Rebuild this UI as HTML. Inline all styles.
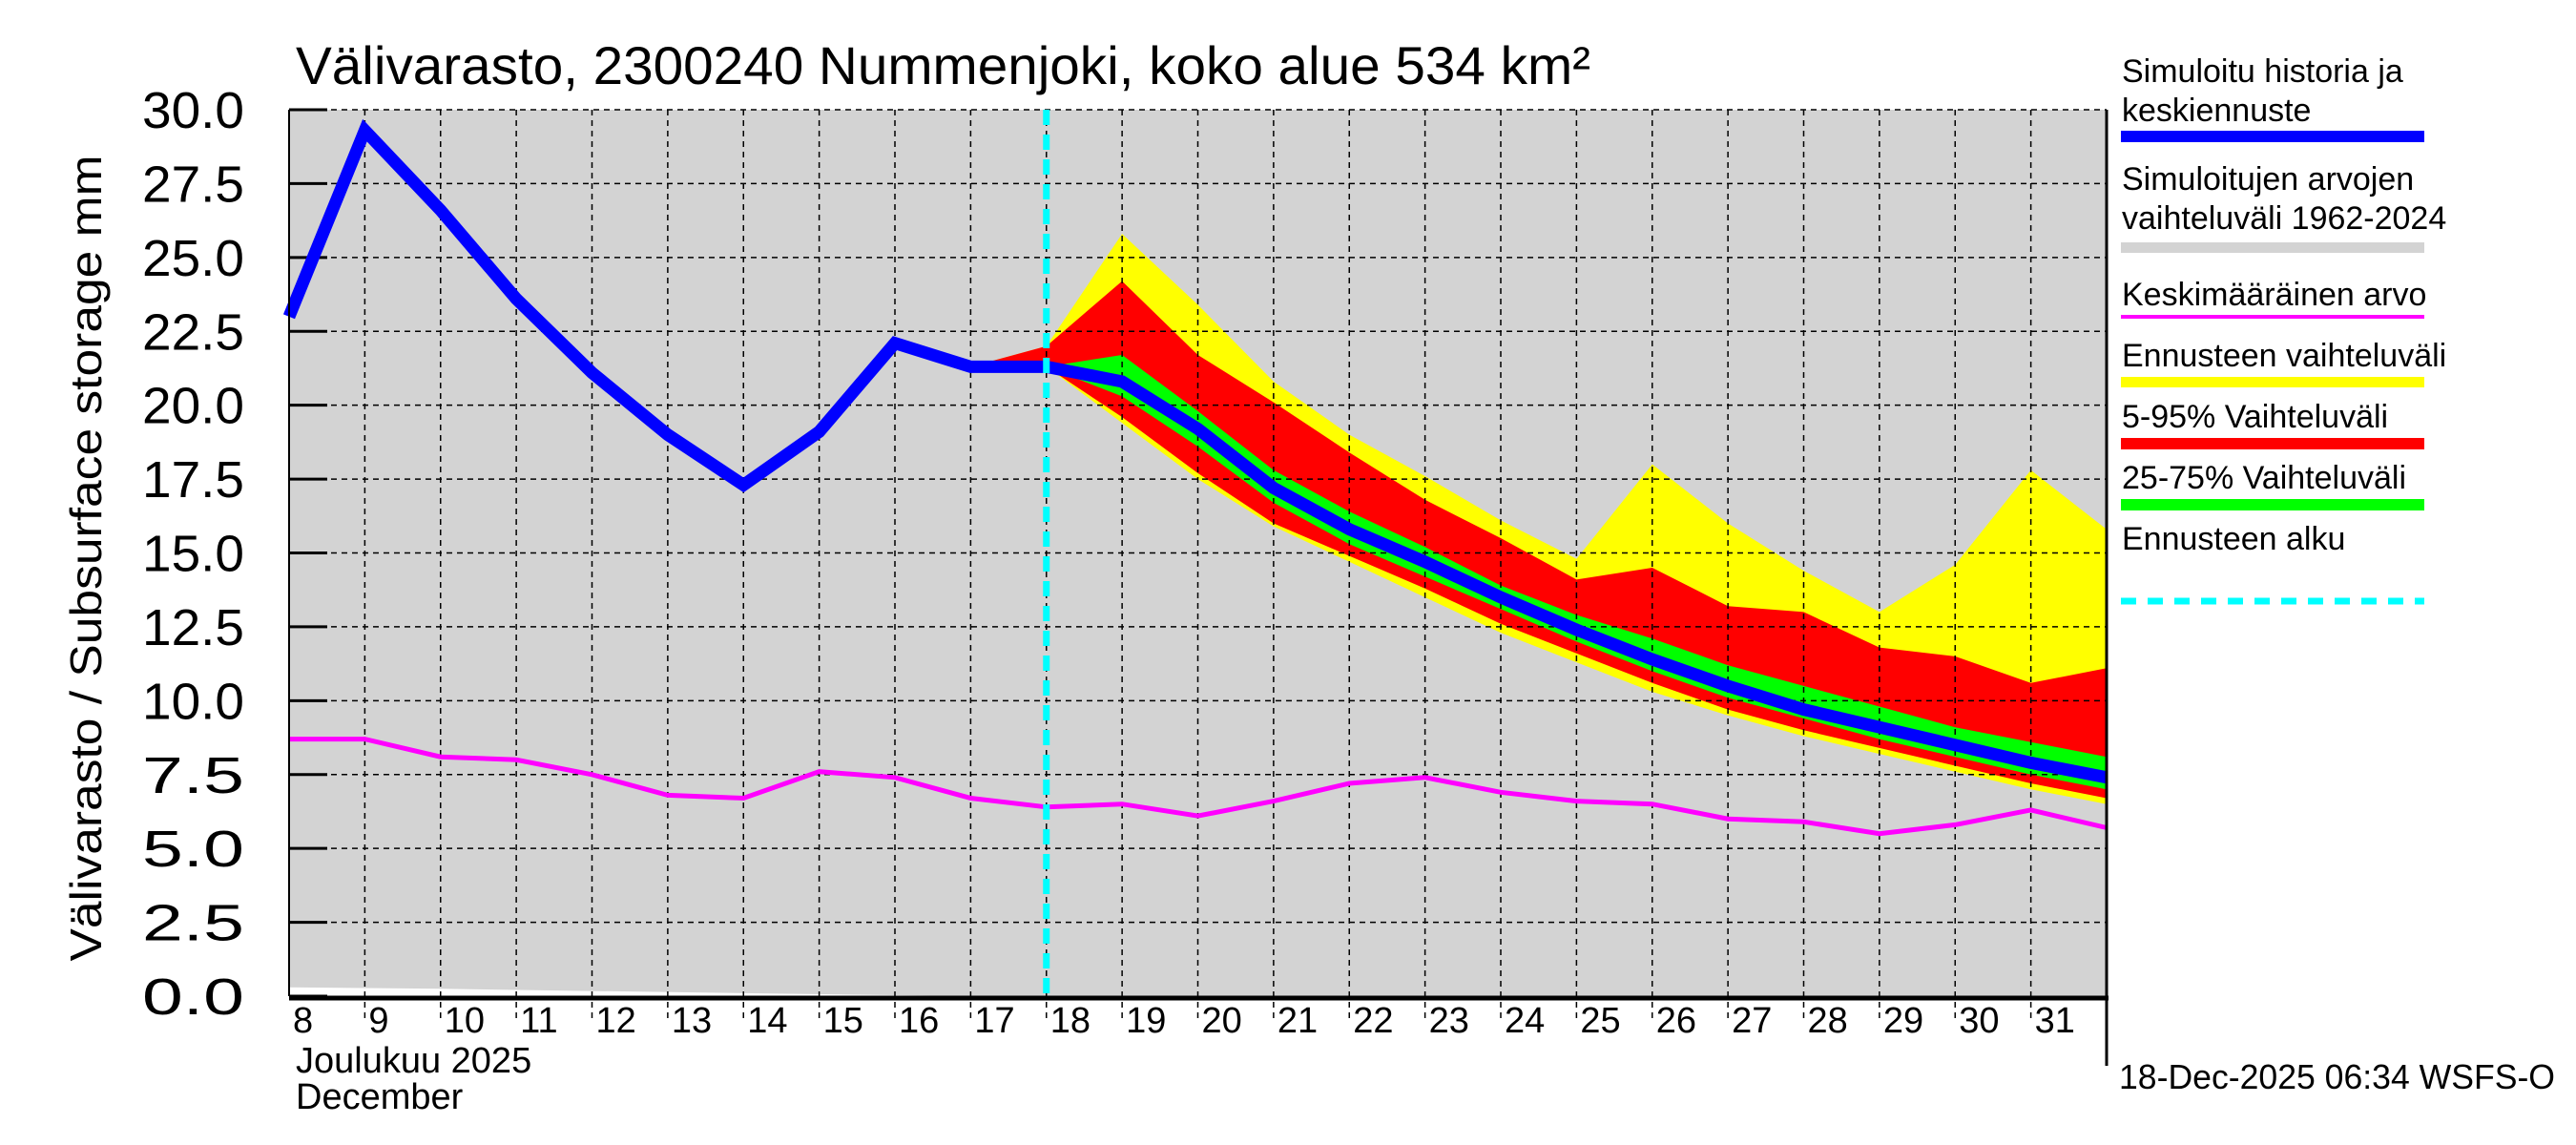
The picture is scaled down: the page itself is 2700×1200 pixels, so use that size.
<!DOCTYPE html>
<html><head><meta charset="utf-8"><style>
html,body{margin:0;padding:0;background:#fff;}
svg{display:block;font-family:"Liberation Sans",sans-serif;}
</style></head><body>
<svg id="chart" width="2700" height="1200" viewBox="0 0 2700 1200">
<g id="plot"></g>
<text x="310" y="88" font-size="56" textLength="1357" lengthAdjust="spacingAndGlyphs">Välivarasto, 2300240 Nummenjoki, koko alue 534 km²</text>
<text transform="translate(106,585) rotate(-90)" text-anchor="middle" font-size="46" textLength="845" lengthAdjust="spacingAndGlyphs">Välivarasto / Subsurface storage  mm</text>
<text x="310" y="1124" font-size="38">Joulukuu  2025</text>
<text x="310" y="1162" font-size="38">December</text>
<text x="2221" y="1141" font-size="36" textLength="457" lengthAdjust="spacingAndGlyphs">18-Dec-2025 06:34 WSFS-O</text>
<g id="legend" font-size="34">
 <text x="2224" y="86">Simuloitu historia ja</text>
 <text x="2224" y="127">keskiennuste</text>
 <rect x="2223" y="137" width="318" height="12" fill="#0000ff"/>
 <text x="2224" y="199">Simuloitujen arvojen</text>
 <text x="2224" y="240">vaihteluväli 1962-2024</text>
 <rect x="2223" y="254" width="318" height="11" fill="#d3d3d3"/>
 <text x="2224" y="320">Keskimääräinen arvo</text>
 <rect x="2223" y="330" width="318" height="4" fill="#ff00ff"/>
 <text x="2224" y="384">Ennusteen vaihteluväli</text>
 <rect x="2223" y="395" width="318" height="11" fill="#ffff00"/>
 <text x="2224" y="448">5-95% Vaihteluväli</text>
 <rect x="2223" y="459" width="318" height="12" fill="#ff0000"/>
 <text x="2224" y="512">25-75% Vaihteluväli</text>
 <rect x="2223" y="523" width="318" height="12" fill="#00ff00"/>
 <text x="2224" y="576">Ennusteen alku</text>
 <line x1="2223" y1="630" x2="2541" y2="630" stroke="#00ffff" stroke-width="7" stroke-dasharray="16,12"/>
</g>
</svg>
<script>
const histDays=[8,9,10,11,12,13,14,15,16,17,18];
const histVals=[23.0,29.3,26.6,23.6,21.1,19.0,17.3,19.1,22.1,21.3,21.3];
const fcDays=[18,19,20,21,22,23,24,25,26,27,28,29,30,31,32];
const fcVals=[21.3,20.8,19.2,17.2,15.8,14.7,13.5,12.4,11.4,10.5,9.7,9.1,8.5,7.9,7.4];
const bandDays=[17,18,19,20,21,22,23,24,25,26,27,28,29,30,31,32];
const yellowHi=[21.3,22.0,25.8,23.4,20.8,19.0,17.6,16.1,14.8,18.0,16.0,14.4,13.0,14.6,17.8,15.8];
const redHi=[21.3,22.0,24.2,21.7,20.1,18.4,16.8,15.5,14.1,14.5,13.2,13.0,11.8,11.5,10.6,11.1];
const greenHi=[21.3,21.3,21.7,19.8,17.8,16.4,15.2,13.9,12.9,12.1,11.2,10.5,9.8,9.1,8.6,8.1];
const greenLo=[21.3,21.3,20.3,18.6,16.7,15.3,14.2,13.1,12.0,11.0,10.1,9.4,8.7,8.1,7.5,7.0];
const redLo=[21.3,21.3,19.6,17.7,16.0,14.9,13.8,12.6,11.6,10.6,9.7,9.0,8.4,7.8,7.2,6.7];
const yellowLo=[21.3,21.3,19.4,17.5,15.9,14.7,13.5,12.3,11.3,10.3,9.5,8.8,8.2,7.6,7.0,6.5];
const meanDays=[8,9,10,11,12,13,14,15,16,17,18,19,20,21,22,23,24,25,26,27,28,29,30,31,32];
const meanVals=[8.7,8.7,8.1,8.0,7.5,6.8,6.7,7.6,7.4,6.7,6.4,6.5,6.1,6.6,7.2,7.4,6.9,6.6,6.5,6.0,5.9,5.5,5.8,6.3,5.7];
const rangeLoDays=[8,10,14,17,32];
const rangeLoVals=[0.3,0.25,0.1,0.0,0.0];
const yTicks=[0,2.5,5,7.5,10,12.5,15,17.5,20,22.5,25,27.5,30];
const xTickLabels=['8','9','10','11','12','13','14','15','16','17','18','19','20','21','22','23','24','25','26','27','28','29','30','31'];
const forecastStart=18;

const L=303,R=2208,T=115,B=1044,D0=8,D1=32,Y0=0,Y1=30;
const X=d=>L+(d-D0)*(R-L)/(D1-D0);
const Y=v=>B-(v-Y0)*(B-T)/(Y1-Y0);
const NS='http://www.w3.org/2000/svg';
const plot=document.getElementById('plot');
function mk(tag,attrs){const e=document.createElementNS(NS,tag);for(const k in attrs)e.setAttribute(k,attrs[k]);plot.appendChild(e);return e;}
const pts=(ds,vs)=>ds.map((d,i)=>X(d).toFixed(1)+','+Y(vs[i]).toFixed(1));

let e=mk('rect',{x:L,y:T,width:R-L,height:B-T,fill:'#d3d3d3'});


e=mk('polygon',{points:pts(rangeLoDays,rangeLoVals).join(' ')+' '+X(32)+','+B+' '+X(8)+','+B,fill:'#ffffff'});



function band(hi,lo,color,name){
  const up=pts(bandDays,hi);const dn=pts(bandDays,lo).reverse();
  const p=mk('polygon',{points:up.concat(dn).join(' '),fill:color});
  
  
}
band(yellowHi,yellowLo,'#ffff00','forecast-range-band');
band(redHi,redLo,'#ff0000','band-5-95');
band(greenHi,greenLo,'#00ff00','band-25-75');

// grid
yTicks.forEach((v,i)=>{
  if(v>0&&v<30){const g=mk('line',{x1:L,x2:R,y1:Y(v),y2:Y(v),stroke:'#000','stroke-width':1.5,'stroke-dasharray':'6,5'});
  
  }
  const t=mk('line',{x1:L,x2:L+40,y1:Y(v),y2:Y(v),stroke:'#000','stroke-width':3});
  
  
  const lb=mk('text',{x:256,y:Y(v)+19,'text-anchor':'end','font-size':54,textLength:107,lengthAdjust:'spacingAndGlyphs'});
  lb.textContent=v.toFixed(1);
  
  
});
e=mk('line',{x1:L,x2:R,y1:T,y2:T,stroke:'#000','stroke-width':1.5,'stroke-dasharray':'6,5'});


xTickLabels.forEach((s,i)=>{
  const d=D0+i;
  if(i>0){const g=mk('line',{x1:X(d),x2:X(d),y1:T,y2:B+24,stroke:'#000','stroke-width':1.5,'stroke-dasharray':'6,5'});
  
  }
  const lb=mk('text',{x:X(d)+4,y:1082,'font-size':38});
  lb.textContent=s;
  
  
});

// mean
e=mk('polyline',{points:pts(meanDays,meanVals).join(' '),fill:'none',stroke:'#ff00ff','stroke-width':5});


// sim
e=mk('polyline',{points:pts(histDays,histVals).join(' '),fill:'none',stroke:'#0000ff','stroke-width':13,'stroke-linejoin':'miter'});


e=mk('polyline',{points:pts(fcDays,fcVals).join(' '),fill:'none',stroke:'#0000ff','stroke-width':13});


// forecast start
e=mk('line',{x1:X(forecastStart),x2:X(forecastStart),y1:T,y2:B,stroke:'#00ffff','stroke-width':7,'stroke-dasharray':'16,10'});


// axes
e=mk('line',{x1:L,x2:L,y1:T,y2:B,stroke:'#000','stroke-width':2});


e=mk('line',{x1:L,x2:R+2,y1:B+2,y2:B+2,stroke:'#000','stroke-width':5});


e=mk('line',{x1:R,x2:R,y1:T,y2:1117,stroke:'#000','stroke-width':3});


</script>
</body></html>
